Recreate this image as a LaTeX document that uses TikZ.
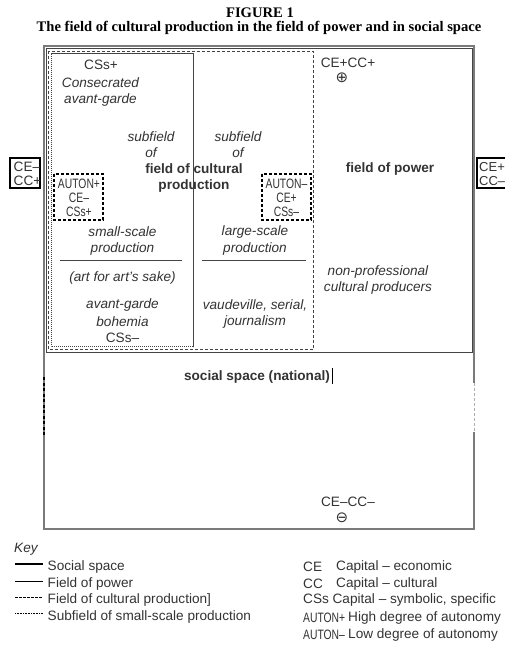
\documentclass[tikz,border=0pt]{standalone}
\usepackage{fontspec}
\setmainfont{Liberation Serif}
\setsansfont{Liberation Sans}
\newfontfamily\narrowfont[FakeStretch=0.76]{Liberation Sans}
\newfontfamily\symbfont{DejaVu Sans}
\definecolor{tc}{HTML}{333333}
\definecolor{lc}{HTML}{444444}
\definecolor{sc}{HTML}{7A7A7A}
\tikzset{
  txt/.style={font=\sffamily\fontsize{13.6}{14}\selectfont, text=tc, inner sep=0pt},
  itx/.style={txt, font=\sffamily\itshape\fontsize{13.6}{14}\selectfont},
  bfx/.style={txt, font=\sffamily\bfseries\fontsize{13.6}{14}\selectfont},
  nar/.style={font=\narrowfont\fontsize{13.6}{14}\selectfont, text=tc, inner sep=0pt},
  ttl/.style={font=\rmfamily\bfseries\fontsize{14.6}{16}\selectfont, text=black, inner sep=0pt},
  symb/.style={font=\symbfont\fontsize{15}{15}\selectfont, text=tc, inner sep=0pt},
  socialline/.style={draw=sc, line width=2pt},
  powerline/.style={draw=lc, line width=1pt},
  cultline/.style={draw=lc, line width=0.8pt, dash pattern=on 3pt off 2pt},
  subline/.style={draw=lc, line width=0.7pt, dash pattern=on 1pt off 1pt},
  capbox/.style={draw=black, line width=2pt},
  autbox/.style={draw=black, line width=1.3pt, dash pattern=on 3pt off 2pt},
}
\begin{document}
\begin{tikzpicture}[x=1pt,y=-1pt]
\useasboundingbox[fill=white] (0,0) rectangle (505,645);
% titles
\node[ttl] (fig) at (260,12.5) {FIGURE 1};
\node[ttl] (title) at (259,27.5) {The field of cultural production in the field of power and in social space};
% social space
\draw[socialline] (43.5,46) rectangle (474,529);
\draw[draw=black, line width=2pt, dash pattern=on 3pt off 2.5pt] (43.5,377) -- (43.5,435);
\draw[draw=white, line width=2.2pt] (474,383) -- (474,432);
\draw[draw=sc!60, line width=1.5pt, dash pattern=on 3pt off 2pt] (474.5,383) -- (474.5,432);
% field of power
\draw[powerline] (46.5,48.5) rectangle (472,352);
% field of cultural production
\draw[cultline] (48.5,51) rectangle (313,349.5);
% subfield of small-scale production
\draw[subline] (51,53.5) rectangle (193,346.5);
\draw[draw=lc, line width=0.7pt] (51,53.5) -- (193,53.5) -- (193,346.5);
% capital boxes
\draw[capbox] (10,158) rectangle (40,188);
\node[txt, anchor=west] (lce) at (13.5,167) {CE–};
\node[txt, anchor=west] (lcc) at (13.5,181) {CC+};
\draw[capbox] (477,158) rectangle (510,188);
\node[txt, anchor=west, font=\sffamily\fontsize{13}{13}\selectfont] (rce) at (479,167) {CE+};
\node[txt, anchor=west, font=\sffamily\fontsize{13}{13}\selectfont] (rcc) at (479,181) {CC–};
% autonomy boxes
\draw[autbox] (54,174) rectangle (103,220);
\node[nar] (a1) at (79,184) {AUTON+};
\node[nar] (a2) at (79,197.5) {CE–};
\node[nar] (a3) at (79,211.5) {CSs+};
\draw[autbox] (262,174) rectangle (311,220);
\node[nar] (b1) at (286.5,184) {AUTON–};
\node[nar] (b2) at (286.5,197.5) {CE+};
\node[nar] (b3) at (286.5,211.5) {CSs–};
% small-scale texts
\node[txt] (css) at (101,65) {CSs+};
\node[itx] (cons) at (100.5,82.5) {Consecrated};
\node[itx] (avg) at (100.5,99.5) {avant-garde};
\node[itx] (sub1) at (151,137) {subfield};
\node[itx] (of1) at (151,153) {of};
\node[bfx] (fcp1) at (194,168.5) {field of cultural};
\node[bfx] (fcp2) at (194,185.5) {production};
\node[itx] (sub2) at (238,137) {subfield};
\node[itx] (of2) at (238,153) {of};
\node[itx] (ss1) at (122.5,232) {small-scale};
\node[itx] (ss2) at (122.5,249) {production};
\draw[draw=lc, line width=1pt] (60,260) -- (182,260);
\node[itx] (art) at (122.5,278) {(art for art's sake)};
\node[itx] (ag1) at (122.5,305) {avant-garde};
\node[itx] (ag2) at (122.5,321.5) {bohemia};
\node[txt] (ag3) at (122.5,338) {CSs–};
% large-scale texts
\node[itx] (ls1) at (255,232) {large-scale};
\node[itx] (ls2) at (255,249) {production};
\draw[draw=lc, line width=1pt] (202,260) -- (306,260);
\node[itx] (vd1) at (255,305) {vaudeville, serial,};
\node[itx] (vd2) at (255,321.5) {journalism};
% field of power texts
\node[txt] (cepl) at (348,62.5) {CE+CC+};
\node[symb] (oplus) at (342,78) {⊕};
\node[bfx] (fop) at (390,168.5) {field of power};
\node[itx] (np1) at (378,272) {non-professional};
\node[itx] (np2) at (378,288) {cultural producers};
% social space texts
\node[bfx] (ssn) at (257,376.5) {social space (national)};
\draw[draw=black, line width=1pt] (332,368) -- (332,384);
\node[txt] (cemi) at (348,502) {CE–CC–};
\node[symb] (ominus) at (342,518) {⊖};
% key
\node[itx, anchor=west] (key) at (14,549) {Key};
\coordinate (k1a) at (15,564); \coordinate (k1b) at (43,564);
\coordinate (k2a) at (15,581); \coordinate (k2b) at (43,581);
\coordinate (k3a) at (15,597.5); \coordinate (k3b) at (43,597.5);
\coordinate (k4a) at (15,613.5); \coordinate (k4b) at (43,613.5);
\draw[draw=black, line width=1.5pt] (k1a) -- (k1b);
\draw[draw=black, line width=0.8pt] (k2a) -- (k2b);
\draw[draw=black, line width=0.6pt, dash pattern=on 2.5pt off 1.5pt] (k3a) -- (k3b);
\draw[draw=black, line width=0.6pt, dash pattern=on 0.8pt off 0.8pt] (k4a) -- (k4b);
\node[txt, anchor=west] (kt1) at (47.5,567) {Social space};
\node[txt, anchor=west] (kt2) at (47.5,583.5) {Field of power};
\node[txt, anchor=west] (kt3) at (47.5,600) {Field of cultural production]};
\node[txt, anchor=west] (kt4) at (47.5,616.5) {Subfield of small-scale production};
\node[txt, anchor=west] (kr1) at (303,567) {CE};
\node[txt, anchor=west] (kr1d) at (336,567) {Capital – economic};
\node[txt, anchor=west] (kr2) at (303,583.5) {CC};
\node[txt, anchor=west] (kr2d) at (336,583.5) {Capital – cultural};
\node[txt, anchor=west] (kr3) at (303,600) {CSs Capital – symbolic, specific};
\node[nar, anchor=west] (kr4) at (303,618) {AUTON+};
\node[txt, anchor=west] (kr4d) at (348,618) {High degree of autonomy};
\node[nar, anchor=west] (kr5) at (303,635) {AUTON–};
\node[txt, anchor=west] (kr5d) at (348,635) {Low degree of autonomy};
\end{tikzpicture}
\end{document}
